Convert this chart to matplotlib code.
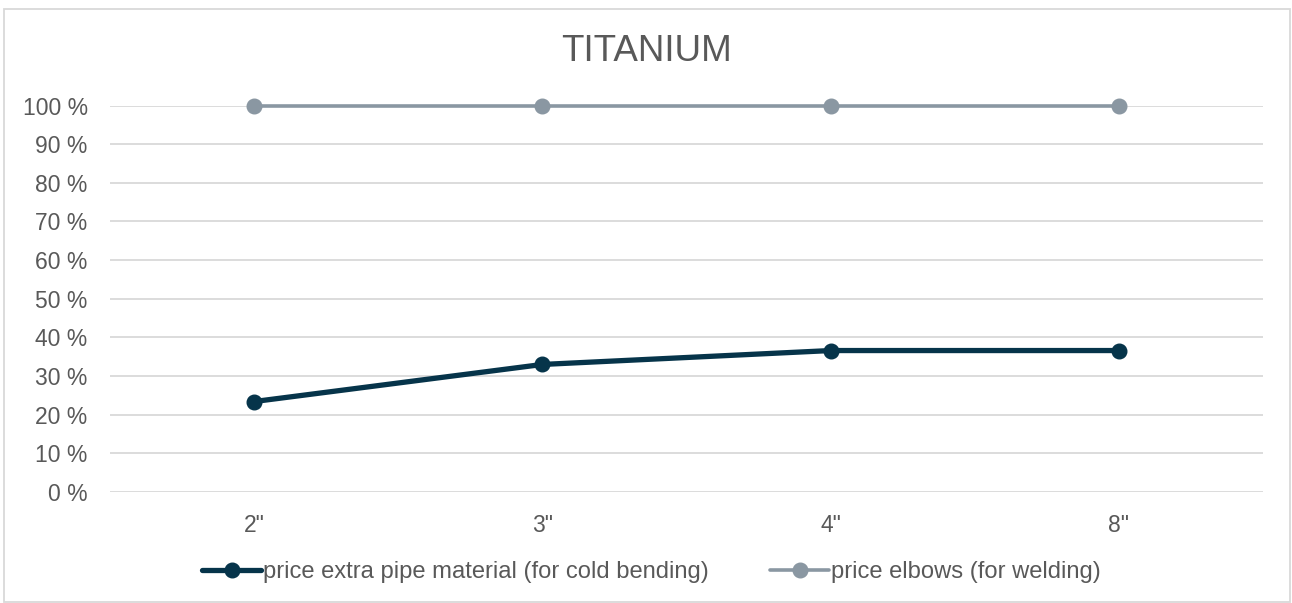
import matplotlib.pyplot as plt
from matplotlib.patches import Rectangle
from matplotlib.ticker import FuncFormatter

# --- Dados ---
sizes = ['2"', '3"', '4"', '8"']
pipe_material = [0.234, 0.330, 0.366, 0.366]
elbows = [1.0, 1.0, 1.0, 1.0]

dark = "#06344a"
grey = "#8a97a2"
text_col = "#595959"

plt.rcParams['font.family'] = ['Liberation Sans', 'DejaVu Sans']

fig = plt.figure(figsize=(12.92, 6.03), dpi=100)
ax = fig.add_axes([0.0851, 0.1841, 0.8925, 0.6409])

x = range(len(sizes))
ax.plot(x, pipe_material, color=dark, lw=3.8, marker='o', ms=10.5, clip_on=False,
        solid_capstyle='round', label="price extra pipe material (for cold bending)", zorder=3)
ax.plot(x, elbows, color=grey, lw=2.6, marker='o', ms=10.5, clip_on=False,
        solid_capstyle='round', label="price elbows (for welding)", zorder=3)

ax.set_xlim(-0.5, len(sizes) - 0.5)
ax.set_ylim(0, 1)
ax.set_yticks([i / 10 for i in range(11)])
ax.yaxis.set_major_formatter(FuncFormatter(lambda v, p: f"{v * 100:.0f} %"))
ax.set_xticks(list(x))
ax.set_xticklabels(sizes)
ax.grid(axis='y', color="#d9d9d9", lw=1.3)
ax.set_axisbelow(True)
for s in ax.spines.values():
    s.set_visible(False)
ax.tick_params(length=0, labelsize=16.5, labelcolor=text_col)
ax.tick_params(axis='y', pad=16)
ax.tick_params(axis='x', pad=16)

fig.text(0.5, 0.914, "TITANIUM", ha='center', va='center', fontsize=26.5, color=text_col)

leg = fig.legend(loc='center', bbox_to_anchor=(0.504, 0.051), ncol=2, frameon=False,
                 fontsize=17.1, labelcolor=text_col, handlelength=2.5, handletextpad=0.05,
                 columnspacing=2.6)

# moldura do gráfico
fig.patches.append(Rectangle((4 / 1292, 1 / 603), 1286 / 1292, 593 / 603,
                             transform=fig.transFigure, fill=False,
                             edgecolor="#d9d9d9", lw=1.3))

fig.savefig("out.png", dpi=100)
